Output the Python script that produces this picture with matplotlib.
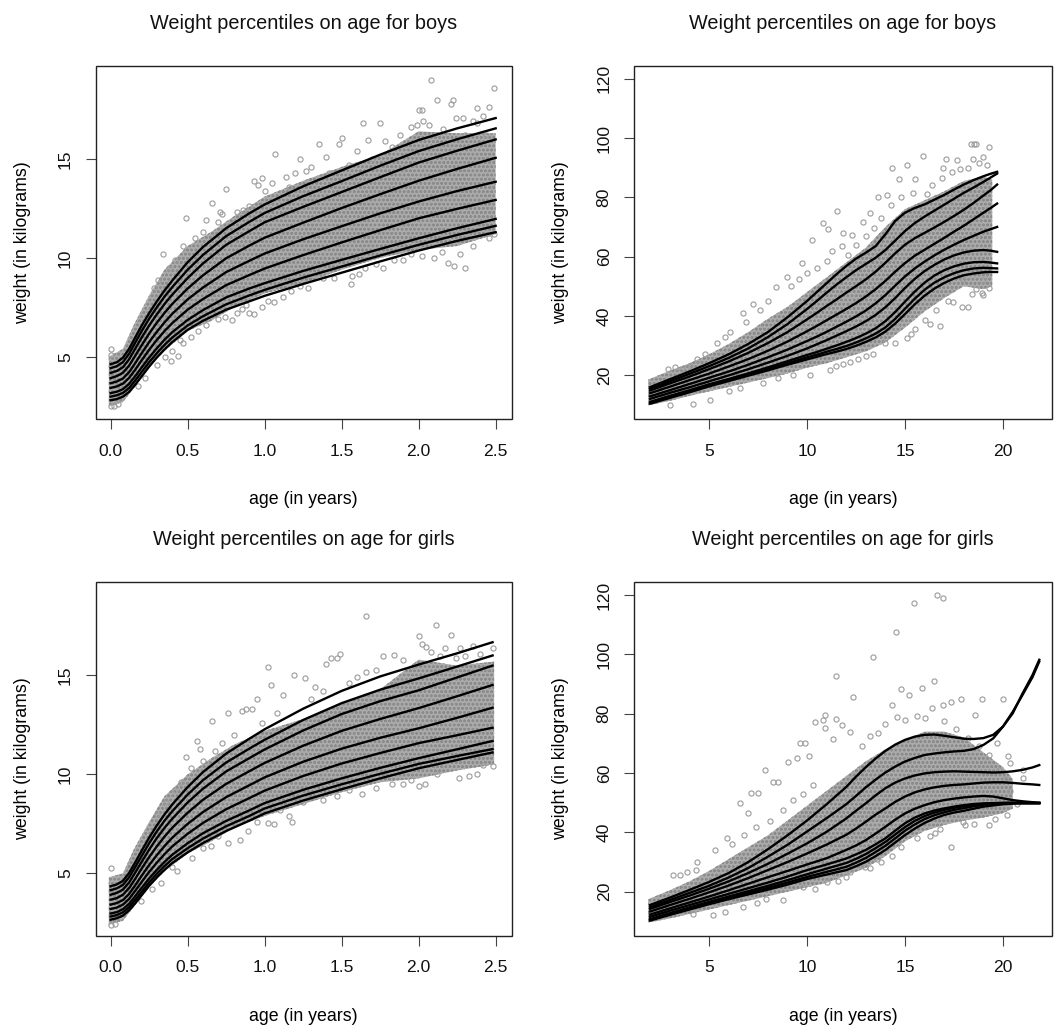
import matplotlib

matplotlib.use("Agg")
import matplotlib.pyplot as plt
from matplotlib.patches import Rectangle

plt.rcParams["font.family"] = ["Liberation Sans", "DejaVu Sans"]
plt.rcParams["hatch.linewidth"] = 0.7

# ---------------------------------------------------------------- boys 0-2.5 y
BOYS_INFANT_AGE = [0, 0.04, 0.08, 0.12, 0.16, 0.2, 0.25, 0.3, 0.35, 0.4, 0.5, 0.6, 0.75,
                   0.9, 1.0, 1.25, 1.5, 1.75, 2.0, 2.25, 2.5]
BOYS_INFANT_CENTILES = [
    [4.62, 4.72, 4.95, 5.40, 5.98, 6.55, 7.20, 7.80, 8.35, 8.85, 9.78, 10.55, 11.50, 12.25, 12.70, 13.62, 14.42, 15.22, 15.96, 16.55, 17.07],
    [4.42, 4.52, 4.73, 5.15, 5.72, 6.28, 6.92, 7.50, 8.04, 8.52, 9.40, 10.15, 11.10, 11.82, 12.27, 13.12, 13.88, 14.66, 15.40, 16.00, 16.55],
    [4.18, 4.28, 4.47, 4.87, 5.41, 5.95, 6.58, 7.14, 7.67, 8.14, 8.98, 9.72, 10.66, 11.35, 11.80, 12.58, 13.33, 14.08, 14.82, 15.42, 15.99],
    [3.92, 4.02, 4.19, 4.55, 5.05, 5.56, 6.17, 6.72, 7.22, 7.67, 8.45, 9.12, 9.98, 10.62, 11.02, 11.78, 12.52, 13.22, 13.90, 14.50, 15.06],
    [3.66, 3.75, 3.90, 4.22, 4.68, 5.16, 5.74, 6.26, 6.74, 7.17, 7.90, 8.50, 9.28, 9.85, 10.22, 10.94, 11.60, 12.25, 12.85, 13.38, 13.85],
    [3.42, 3.50, 3.64, 3.93, 4.35, 4.80, 5.35, 5.85, 6.30, 6.70, 7.38, 7.92, 8.62, 9.13, 9.46, 10.14, 10.78, 11.40, 12.00, 12.48, 12.93],
    [3.16, 3.23, 3.36, 3.63, 4.02, 4.44, 4.96, 5.43, 5.86, 6.24, 6.86, 7.36, 8.00, 8.45, 8.72, 9.34, 9.90, 10.45, 10.99, 11.50, 11.97],
    [2.98, 3.05, 3.17, 3.42, 3.80, 4.21, 4.72, 5.18, 5.60, 5.97, 6.58, 7.05, 7.65, 8.10, 8.38, 9.00, 9.56, 10.12, 10.66, 11.16, 11.62],
    [2.80, 2.86, 2.98, 3.22, 3.59, 3.99, 4.50, 4.96, 5.37, 5.74, 6.36, 6.82, 7.38, 7.80, 8.08, 8.68, 9.25, 9.82, 10.37, 10.86, 11.30],
]
BOYS_INFANT_CLOUD_AGE = [-0.012, 0.08, 0.15, 0.25, 0.35, 0.5, 0.65, 0.8, 1.0, 1.25, 1.5, 1.75, 2.0, 2.25, 2.5]
BOYS_INFANT_CLOUD_HI = [5.0, 5.4, 6.6, 8.1, 9.4, 10.6, 11.3, 12.1, 13.1, 13.9, 14.6, 15.2, 16.4, 16.3, 16.3]
BOYS_INFANT_CLOUD_LO = [2.5, 2.7, 3.4, 4.5, 5.3, 6.3, 6.8, 7.5, 8.2, 8.7, 9.4, 10.0, 10.4, 10.6, 11.2]
BOYS_INFANT_PT_AGE = [
    2.08, 2.49, 2.12, 2.22, 2.21, 2.00, 2.02, 2.38, 2.46, 2.24, 2.29, 1.64, 1.75, 1.67,
    1.50, 1.48, 1.35, 1.07, 1.23, 1.14, 0.98, 0.75, 0.49, 0.66, 0.34, 0.93, 1.40, 0.96,
    2.35, 2.16, 1.95, 1.83, 2.42, 0.00, 0.00, 0.71, 0.62, 1.30, 1.20,
    0.28, 0.31, 0.38, 0.42, 0.47, 0.55, 0.60, 0.70, 0.72, 0.82, 0.86, 0.90, 1.00, 1.05,
    1.16, 1.27, 1.42, 1.55, 1.60, 1.70, 1.78, 1.88, 1.99, 2.03, 2.07, 2.30, 2.38, 2.44,
    2.30, 2.23, 2.19, 2.27, 1.56, 1.57, 1.38, 1.77, 1.84, 1.61, 1.23, 1.06, 0.90, 0.93,
    0.79, 0.74, 0.57, 0.45, 0.44, 0.39, 0.40, 0.47, 1.10, 1.17, 2.49, 2.02, 2.10, 1.95,
    0.00, 0.02, 0.05, 0.98, 1.02, 0.85,
    0.22, 0.18, 0.30, 0.35, 0.52, 0.62, 0.70, 0.82, 0.88, 1.12, 1.28, 1.45, 1.65, 1.72,
    1.90, 2.15, 2.35, 2.46,
]
BOYS_INFANT_PT_WT = [
    19.0, 18.6, 18.0, 18.0, 17.76, 17.5, 17.5, 17.56, 17.64, 17.05, 17.05, 16.83, 16.83, 15.94,
    16.08, 15.74, 15.74, 15.24, 15.0, 14.1, 14.05, 13.47, 12.04, 12.76, 10.18, 13.9, 15.1, 13.7,
    16.9, 16.5, 16.6, 15.6, 17.2, 5.4, 5.1, 12.3, 11.9, 14.6, 14.3,
    8.5, 8.9, 9.5, 9.9, 10.6, 11.0, 11.3, 11.8, 12.2, 12.3, 12.4, 12.6, 13.4, 13.8,
    13.6, 14.4, 14.3, 14.7, 15.4, 15.0, 15.9, 16.2, 16.7, 16.9, 16.7, 16.2, 16.8, 16.2,
    9.48, 9.61, 9.75, 10.18, 8.69, 9.1, 9.0, 9.48, 9.9, 9.19, 8.6, 7.76, 7.21, 7.15,
    6.84, 7.0, 6.28, 5.86, 5.02, 4.80, 5.3, 5.7, 8.5, 8.3, 11.2, 10.1, 10.0, 10.2,
    2.5, 2.5, 2.6, 7.5, 7.8, 7.4,
    3.9, 3.5, 4.6, 5.0, 6.0, 6.6, 6.9, 7.2, 7.6, 8.0, 8.5, 9.0, 9.5, 9.7,
    9.9, 10.3, 10.6, 11.0,
]

# ---------------------------------------------------------------- boys 2-20 y
BOYS_AGE = [2, 3, 4, 5, 6, 7, 8, 9, 10, 10.5, 11, 11.5, 12, 12.5, 13, 13.5, 14, 14.5, 15,
            15.5, 16, 16.5, 17, 17.5, 18, 18.5, 19, 19.35, 19.7]
BOYS_CENTILES = [
    [15.96, 18.6, 21.2, 24.0, 27.0, 30.5, 34.5, 39.5, 45.0, 48.0, 51.0, 54.0, 56.8, 59.3, 61.3, 63.5, 67.5, 72.0, 74.8, 76.4, 77.6, 79.2, 80.8, 82.6, 84.3, 85.8, 87.1, 87.9, 88.6],
    [15.40, 17.9, 20.4, 23.0, 25.8, 29.0, 32.8, 37.2, 42.3, 45.0, 47.8, 50.5, 53.0, 55.4, 57.5, 59.6, 62.2, 65.4, 68.6, 71.3, 73.5, 75.5, 77.5, 79.5, 81.5, 83.3, 85.2, 86.6, 88.0],
    [14.82, 17.2, 19.5, 22.0, 24.6, 27.5, 30.8, 34.5, 38.8, 41.0, 43.3, 45.5, 47.8, 50.0, 52.3, 54.9, 57.9, 61.1, 64.0, 66.2, 68.0, 69.8, 71.7, 73.7, 75.8, 78.1, 80.6, 82.3, 84.3],
    [13.90, 16.1, 18.3, 20.5, 22.9, 25.4, 28.2, 31.3, 34.8, 36.6, 38.5, 40.4, 42.3, 44.3, 46.5, 49.0, 51.8, 54.9, 57.8, 60.3, 62.3, 64.3, 66.3, 68.4, 70.4, 72.6, 74.8, 76.3, 77.9],
    [12.85, 14.9, 17.0, 19.1, 21.2, 23.5, 26.0, 28.6, 31.5, 33.0, 34.6, 36.3, 38.0, 39.8, 41.8, 44.2, 47.0, 50.2, 53.3, 56.0, 58.3, 60.4, 62.3, 64.0, 65.6, 67.0, 68.4, 69.2, 70.0],
    [12.00, 14.0, 15.9, 17.9, 19.9, 22.0, 24.2, 26.5, 29.0, 30.4, 31.8, 33.3, 34.8, 36.4, 38.2, 40.3, 42.9, 46.0, 49.4, 52.5, 55.1, 57.2, 59.0, 60.4, 61.4, 62.0, 62.2, 62.0, 61.6],
    [10.99, 13.0, 14.9, 16.9, 18.7, 20.6, 22.6, 24.7, 26.8, 27.8, 28.9, 30.0, 31.2, 32.5, 34.0, 35.8, 38.2, 41.3, 44.8, 48.2, 51.2, 53.6, 55.4, 56.7, 57.6, 58.1, 58.2, 58.0, 57.7],
    [10.66, 12.6, 14.5, 16.5, 18.3, 20.1, 22.0, 24.0, 26.0, 26.9, 27.9, 28.8, 29.8, 31.0, 32.4, 34.0, 36.1, 39.0, 42.4, 45.8, 48.8, 51.2, 53.0, 54.4, 55.4, 56.0, 56.2, 56.1, 56.0],
    [10.37, 12.3, 14.2, 16.2, 18.0, 19.8, 21.6, 23.5, 25.3, 26.2, 27.1, 27.9, 28.8, 29.9, 31.2, 32.7, 34.7, 37.4, 40.6, 43.9, 46.8, 49.2, 51.1, 52.6, 53.7, 54.3, 54.7, 54.8, 54.8],
]
BOYS_CLOUD_AGE = [1.9, 3, 4, 5, 6, 7, 8, 9, 10, 11, 12, 13, 14, 15, 16, 17, 18, 19, 19.45]
BOYS_CLOUD_HI = [18.5, 21.5, 24, 27, 30.5, 34.5, 39, 43, 48, 53, 58, 63, 70, 76, 79, 82, 85.5, 87, 86]
BOYS_CLOUD_LO = [9.8, 11.3, 13.0, 14.5, 16.0, 17.5, 19.0, 20.5, 22.5, 24.0, 26.0, 28.0, 31.0, 36.0, 41.5, 46.0, 50.0, 49.0, 50.0]
BOYS_PT_AGE = [
    18.5, 18.35, 18.62, 19.27, 15.9, 15.08, 14.35, 17.07, 17.64, 16.96, 17.8, 18.49, 19.0,
    14.68, 15.5, 14.06, 13.62, 13.2, 12.87, 11.51, 10.83, 11.09, 10.24, 11.85, 12.28, 9.73,
    8.96, 8.42, 7.26, 6.75, 6.07, 5.39, 4.03, 3.27, 2.93, 16.1,
    9.2, 9.6, 10.0, 10.5, 11.0, 11.3, 11.8, 12.1, 12.5, 13.0, 13.4, 13.8, 14.3, 14.8,
    15.4, 16.4, 16.9, 17.4, 18.2, 18.8, 19.2, 8.0, 7.6, 6.9, 5.8, 4.8, 4.4, 3.6,
    17.98, 18.4, 18.91, 19.0, 17.89, 18.23, 17.47, 16.79, 16.28, 15.5, 15.08, 13.98, 13.38,
    12.62, 11.85, 11.17, 10.15, 9.3, 7.77, 6.58, 5.05, 4.17, 19.0,
    14.5, 15.3, 16.0, 16.6, 17.2, 18.6, 19.3, 13.0, 12.2, 11.5, 8.5, 6.0, 3.0,
]
BOYS_PT_WT = [
    97.9, 97.9, 97.9, 97.0, 94.0, 90.9, 90.0, 92.8, 92.5, 90.0, 89.7, 93.0, 93.6,
    86.3, 86.3, 80.7, 80.1, 74.8, 71.7, 75.4, 71.4, 69.4, 65.5, 67.8, 67.2, 58.0,
    53.2, 49.8, 43.9, 40.8, 34.6, 30.7, 23.0, 22.8, 22.2, 81.2,
    50.0, 52.5, 54.5, 56.0, 58.5, 62.0, 63.5, 60.5, 64.0, 67.0, 69.5, 73.0, 77.5, 80.0,
    81.5, 84.0, 86.5, 88.5, 90.0, 91.5, 91.0, 45.0, 42.0, 38.0, 33.0, 27.0, 25.5, 22.0,
    52.6, 47.5, 47.8, 47.0, 43.0, 43.0, 44.7, 36.5, 37.2, 35.7, 32.4, 30.7, 27.3,
    25.6, 23.6, 21.7, 20.0, 20.0, 17.2, 15.5, 11.6, 10.4, 52.0,
    31.0, 34.0, 38.5, 42.0, 45.0, 49.0, 49.5, 26.5, 24.5, 23.0, 19.0, 14.5, 10.0,
]

# ---------------------------------------------------------------- girls 0-2.5 y
GIRLS_INFANT_AGE = [0, 0.04, 0.08, 0.12, 0.16, 0.2, 0.25, 0.3, 0.35, 0.4, 0.5, 0.6, 0.75,
                    0.9, 1.0, 1.25, 1.5, 1.75, 2.0, 2.25, 2.48]
GIRLS_INFANT_CENTILES = [
    [4.35, 4.44, 4.62, 5.02, 5.56, 6.12, 6.80, 7.42, 7.98, 8.48, 9.36, 10.12, 11.05, 11.80, 12.28, 13.32, 14.22, 14.95, 15.55, 16.12, 16.68],
    [4.15, 4.24, 4.42, 4.80, 5.32, 5.86, 6.52, 7.12, 7.66, 8.14, 8.98, 9.71, 10.60, 11.30, 11.75, 12.75, 13.60, 14.28, 14.85, 15.45, 16.01],
    [3.92, 4.01, 4.18, 4.54, 5.04, 5.56, 6.20, 6.78, 7.30, 7.76, 8.58, 9.28, 10.15, 10.82, 11.26, 12.22, 13.05, 13.70, 14.25, 14.90, 15.50],
    [3.67, 3.75, 3.92, 4.26, 4.73, 5.22, 5.82, 6.36, 6.86, 7.30, 8.06, 8.72, 9.52, 10.16, 10.58, 11.45, 12.20, 12.80, 13.35, 13.95, 14.52],
    [3.42, 3.50, 3.65, 3.96, 4.40, 4.86, 5.42, 5.92, 6.38, 6.80, 7.50, 8.10, 8.85, 9.45, 9.85, 10.64, 11.30, 11.85, 12.33, 12.86, 13.37],
    [3.20, 3.27, 3.42, 3.71, 4.12, 4.55, 5.07, 5.54, 5.97, 6.36, 7.00, 7.55, 8.24, 8.80, 9.18, 9.92, 10.55, 11.08, 11.58, 11.98, 12.36],
    [2.97, 3.04, 3.19, 3.46, 3.85, 4.25, 4.74, 5.18, 5.58, 5.94, 6.52, 7.03, 7.65, 8.18, 8.55, 9.22, 9.80, 10.33, 10.82, 11.27, 11.69],
    [2.82, 2.89, 3.03, 3.29, 3.66, 4.05, 4.54, 4.98, 5.37, 5.72, 6.27, 6.76, 7.38, 7.90, 8.28, 8.93, 9.50, 10.03, 10.53, 10.93, 11.28],
    [2.66, 2.73, 2.87, 3.13, 3.49, 3.88, 4.37, 4.80, 5.18, 5.52, 6.06, 6.53, 7.14, 7.66, 8.03, 8.68, 9.25, 9.80, 10.31, 10.73, 11.11],
]
GIRLS_INFANT_CLOUD_AGE = [-0.012, 0.08, 0.15, 0.25, 0.35, 0.5, 0.65, 0.8, 1.0, 1.25, 1.5, 1.75, 2.0, 2.25, 2.49]
GIRLS_INFANT_CLOUD_HI = [4.8, 5.0, 6.2, 7.6, 8.9, 10.0, 10.8, 11.5, 12.2, 12.8, 13.6, 14.3, 15.8, 15.5, 15.7]
GIRLS_INFANT_CLOUD_LO = [2.4, 2.6, 3.3, 4.3, 5.1, 6.0, 6.6, 7.3, 7.9, 8.5, 9.1, 9.6, 9.8, 10.2, 10.5]
GIRLS_INFANT_PT_AGE = [
    1.66, 2.11, 2.21, 2.00, 2.02, 2.05, 2.17, 2.27, 2.35, 2.48, 1.49, 1.47, 1.02, 1.26,
    1.19, 1.04, 0.95, 0.92, 0.85, 0.76, 0.66, 0.56, 0.49, 1.12, 1.66, 1.84, 1.77, 1.97,
    2.30, 0.00, 1.40, 1.43, 0.58, 0.88, 1.33,
    0.30, 0.36, 0.42, 0.46, 0.52, 0.60, 0.68, 0.72, 0.80, 0.98, 1.08, 1.30, 1.38, 1.55,
    1.60, 1.72, 1.90, 2.08, 2.14, 2.24, 2.40, 2.44,
    0.84, 0.76, 0.89, 0.65, 0.53, 0.43, 1.18, 1.16, 1.02, 1.06, 1.38, 1.63, 1.72, 1.83,
    1.90, 2.00, 2.04, 2.26, 2.33, 2.48, 0.00, 0.03, 0.33, 0.95, 1.47, 2.38,
    0.20, 0.27, 0.40, 0.60, 0.70, 1.10, 1.25, 1.55, 1.95, 2.12, 2.42,
]
GIRLS_INFANT_PT_WT = [
    18.02, 17.53, 17.02, 17.0, 16.6, 16.45, 16.4, 16.4, 16.5, 16.4, 16.08, 15.9, 15.45, 14.86,
    15.03, 14.5, 13.79, 13.3, 13.2, 13.12, 12.72, 11.71, 10.86, 14.0, 15.2, 16.01, 16.0, 15.5,
    16.0, 5.25, 15.6, 15.9, 11.3, 13.3, 14.4,
    8.0, 8.6, 9.2, 9.6, 10.3, 10.7, 11.2, 11.6, 12.0, 12.6, 13.1, 13.8, 14.2, 14.6,
    14.9, 15.3, 15.8, 16.2, 16.0, 15.9, 16.1, 15.4,
    6.68, 6.51, 7.15, 6.4, 5.76, 5.13, 7.61, 7.9, 7.53, 7.5, 8.7, 8.99, 9.3, 9.5,
    9.5, 9.4, 9.5, 9.8, 9.9, 10.4, 2.4, 2.45, 4.5, 7.6, 8.9, 10.0,
    3.6, 4.2, 5.3, 6.3, 6.9, 8.2, 8.6, 9.2, 9.7, 10.0, 10.5,
]

# ---------------------------------------------------------------- girls 2-22 y
GIRLS_AGE = [2, 3, 4, 5, 6, 7, 8, 9, 10, 11, 12, 12.5, 13, 13.5, 14, 14.5, 15, 15.5, 16, 16.5,
             17, 17.5, 18, 18.5, 19, 19.5, 20, 20.5, 21, 21.5, 21.85]
GIRLS_CENTILES = [
    [15.55, 18.0, 20.6, 23.3, 26.3, 30.0, 34.3, 39.0, 44.0, 49.5, 55.3, 58.8, 62.0, 64.9, 67.5, 69.6,
     71.2, 72.3, 72.9, 73.0, 72.6, 72.1, 71.6, 71.5, 71.8, 72.9, 75.7, 80.2, 86.9, 93.0, 98.2],
    [14.85, 17.2, 19.6, 22.0, 24.8, 28.0, 31.8, 35.8, 40.3, 44.8, 49.5, 52.3, 55.2, 57.8, 60.2, 62.2,
     63.9, 65.1, 66.1, 66.6, 67.0, 67.3, 67.5, 68.1, 69.5, 71.7, 75.7, 80.7, 86.4, 92.3, 97.6],
    [14.25, 16.5, 18.7, 21.0, 23.5, 26.3, 29.4, 32.8, 36.3, 40.2, 44.7, 47.3, 49.8, 52.5, 54.9, 56.8,
     58.2, 59.2, 59.9, 60.3, 60.5, 60.6, 60.5, 60.4, 60.3, 60.2, 60.3, 60.6, 61.1, 61.9, 62.7],
    [13.35, 15.5, 17.6, 19.8, 22.1, 24.6, 27.3, 30.0, 32.9, 35.9, 39.2, 41.3, 43.6, 46.0, 48.1, 50.3,
     52.1, 53.5, 54.5, 55.2, 55.7, 56.0, 56.2, 56.5, 56.8, 56.9, 56.9, 56.7, 56.4, 56.2, 56.0],
    [12.33, 14.4, 16.4, 18.4, 20.5, 22.7, 24.9, 27.0, 29.2, 31.3, 34.1, 35.6, 37.4, 39.6, 41.9, 44.3,
     46.4, 48.0, 49.2, 50.2, 50.9, 51.4, 51.8, 52.1, 52.3, 52.1, 51.5, 50.9, 50.5, 50.2, 50.0],
    [11.58, 13.6, 15.5, 17.4, 19.3, 21.2, 23.1, 25.1, 27.3, 29.2, 31.2, 32.6, 34.1, 36.0, 38.0, 40.6,
     43.1, 45.0, 46.4, 47.4, 48.1, 48.7, 49.2, 49.6, 49.8, 49.9, 50.0, 50.0, 49.9, 49.9, 49.9],
    [10.82, 12.8, 14.7, 16.6, 18.4, 20.2, 22.0, 23.9, 25.9, 27.8, 29.7, 31.1, 32.7, 34.7, 36.8, 39.3,
     41.8, 43.9, 45.5, 46.7, 47.6, 48.3, 48.8, 49.3, 49.6, 49.8, 49.9, 50.0, 50.0, 50.0, 50.0],
    [10.53, 12.5, 14.3, 16.2, 17.9, 19.6, 21.3, 23.1, 25.0, 26.7, 28.4, 29.8, 31.4, 33.4, 35.5, 38.0,
     40.6, 42.7, 44.5, 45.8, 46.8, 47.6, 48.2, 48.8, 49.3, 49.6, 49.8, 49.9, 49.9, 49.9, 49.9],
    [10.31, 12.2, 14.0, 15.8, 17.5, 19.1, 20.7, 22.4, 24.3, 25.8, 27.3, 28.6, 30.1, 32.0, 34.1, 36.6,
     39.1, 41.3, 43.2, 44.7, 45.9, 46.7, 47.3, 48.0, 48.7, 49.1, 49.5, 49.7, 49.8, 49.8, 49.8],
]
GIRLS_CLOUD_AGE = [1.9, 3, 4, 5, 6, 7, 8, 9, 10, 11, 12, 13, 14, 15, 16, 17, 18, 19, 20, 20.5]
GIRLS_CLOUD_HI = [17.5, 20.5, 23.5, 27, 31, 35, 39, 44, 49, 54, 59, 64, 68, 71, 74, 74, 72, 67, 62, 58]
GIRLS_CLOUD_LO = [9.6, 11.0, 12.5, 14.0, 15.5, 17.0, 18.5, 20.0, 21.5, 23.0, 25.5, 28.0, 32.0, 37.0,
                  40.5, 42.5, 44.0, 45.0, 46.5, 48.0]
GIRLS_PT_AGE = [
    16.62, 16.96, 15.46, 14.54, 13.38, 11.48, 12.36, 16.48, 15.85, 14.8, 15.22, 18.91, 19.98,
    17.86, 17.33, 16.96, 16.36, 14.32, 18.57, 15.59, 10.92, 10.83, 10.41, 11.46, 11.8, 11.34,
    10.94, 12.19, 19.68, 20.27, 20.36, 21.04, 21.0, 20.36, 9.64, 9.9, 10.12, 9.47, 9.05, 7.87,
    8.54, 8.28, 7.52, 7.13, 6.58, 7.01, 5.9, 5.31, 4.37, 3.18, 3.52, 3.86, 4.34, 20.7,
    8.8, 9.3, 9.8, 10.3, 12.8, 13.2, 13.6, 14.0, 14.6, 15.0, 16.0, 17.0, 17.6, 18.2, 18.8,
    19.3, 19.8, 20.1, 6.2, 6.8, 7.4, 8.1,
    17.33, 19.3, 16.28, 16.53, 14.32, 13.55, 12.7, 12.96, 13.21, 12.19, 11.0, 9.81, 8.79,
    7.43, 6.75, 5.82, 5.22, 18.06, 17.98,
    14.8, 15.6, 16.8, 18.5, 19.6, 20.2, 10.4, 11.6, 12.0, 13.8, 7.9, 4.2,
]
GIRLS_PT_WT = [
    119.9, 119.0, 117.3, 107.7, 99.0, 92.6, 85.8, 90.9, 88.8, 88.4, 86.4, 85.0, 85.0,
    85.0, 83.9, 83.0, 81.9, 83.0, 79.6, 79.1, 79.6, 77.9, 77.1, 78.2, 76.2, 71.4,
    75.1, 74.0, 70.1, 65.6, 63.3, 61.1, 58.2, 54.1, 70.1, 70.1, 65.6, 65.0, 63.9, 61.1,
    57.1, 57.1, 53.2, 53.2, 49.8, 46.4, 38.0, 34.1, 30.1, 25.6, 25.8, 26.7, 27.3, 49.6,
    47.5, 51.0, 53.0, 56.0, 69.0, 72.5, 73.5, 76.5, 79.0, 78.0, 78.5, 77.5, 75.0, 72.0, 69.0,
    66.0, 61.0, 58.0, 36.0, 39.0, 42.0, 44.0,
    35.2, 42.5, 38.8, 39.7, 32.1, 31.2, 29.0, 28.4, 27.9, 26.7, 23.4, 21.7, 17.2,
    16.1, 14.9, 13.3, 12.1, 42.5, 43.6,
    35.0, 38.0, 41.0, 43.0, 44.5, 46.0, 21.0, 23.5, 25.0, 30.0, 17.5, 12.5,
]

TITLES = ["Weight percentiles on age for boys", "Weight percentiles on age for girls"]
POINT_GREY = "#9b9b9b"
CLOUD_FACE = "#ababab"
CLOUD_RING = "#8b8b8b"
AX_H_PX = 353.5


def draw_panel(ax, title, ages, centiles, cloud, points, young):
    cloud_age, cloud_hi, cloud_lo = cloud
    # dense part of the scatter: overlapping open circles
    ax.fill_between(cloud_age, cloud_lo, cloud_hi, facecolor=CLOUD_FACE, edgecolor=CLOUD_RING,
                    hatch="oooo", linewidth=0, zorder=1)
    ax.plot(points[0], points[1], linestyle="none", marker="o", markersize=3.7,
            markerfacecolor="none", markeredgecolor=POINT_GREY, markeredgewidth=0.8, zorder=2)
    for curve in centiles:
        ax.plot(ages, curve, color="black", linewidth=1.7, zorder=3,
                solid_joinstyle="round")

    if young:
        ax.set_xlim(-0.097, 2.604)
        ax.set_ylim(1.85, 19.72)
        ax.set_xticks([0.0, 0.5, 1.0, 1.5, 2.0, 2.5])
        ax.set_xticklabels(["0.0", "0.5", "1.0", "1.5", "2.0", "2.5"])
        yticks = [5, 10, 15]
    else:
        ax.set_xlim(1.19, 22.48)
        ax.set_ylim(5.2, 124.4)
        ax.set_xticks([5, 10, 15, 20])
        yticks = [20, 40, 60, 80, 100, 120]
    ax.set_yticks(yticks)
    ax.set_yticklabels([str(v) for v in yticks], rotation=90, va="center")

    for spine in ax.spines.values():
        spine.set_visible(False)
    ax.add_patch(Rectangle((0, 0), 1, 1, transform=ax.transAxes, fill=False,
                           edgecolor="#222222", linewidth=1.0, clip_on=False, zorder=5))
    ax.tick_params(axis="both", direction="out", length=7.3, width=0.8, color="#444444",
                   labelsize=12.6, labelcolor="#111111")
    ax.tick_params(axis="x", pad=10.5)
    ax.tick_params(axis="y", pad=9)

    ax.set_xlabel("age (in years)", fontsize=12.8)
    ax.xaxis.label.set_verticalalignment("baseline")
    ax.xaxis.set_label_coords(0.5, -85 / AX_H_PX)
    ax.set_ylabel("weight (in kilograms)", fontsize=12.8)
    ax.yaxis.label.set_verticalalignment("baseline")
    ax.yaxis.set_label_coords(-69 / 417.0, 0.5)
    ax.text(0.5, 1 + 37 / AX_H_PX, title, transform=ax.transAxes, ha="center",
            va="baseline", fontsize=14.3, color="#111111")


fig = plt.figure(figsize=(10.55, 10.28), dpi=100)
ax_tl = fig.add_axes([0.0907, 0.5924, 0.3943, 0.3437])
ax_tr = fig.add_axes([0.6012, 0.5924, 0.3956, 0.3437])
ax_bl = fig.add_axes([0.0907, 0.0898, 0.3943, 0.3440])
ax_br = fig.add_axes([0.6012, 0.0898, 0.3956, 0.3440])

draw_panel(ax_tl, TITLES[0], BOYS_INFANT_AGE, BOYS_INFANT_CENTILES,
           (BOYS_INFANT_CLOUD_AGE, BOYS_INFANT_CLOUD_HI, BOYS_INFANT_CLOUD_LO),
           (BOYS_INFANT_PT_AGE, BOYS_INFANT_PT_WT), young=True)
draw_panel(ax_tr, TITLES[0], BOYS_AGE, BOYS_CENTILES,
           (BOYS_CLOUD_AGE, BOYS_CLOUD_HI, BOYS_CLOUD_LO),
           (BOYS_PT_AGE, BOYS_PT_WT), young=False)
draw_panel(ax_bl, TITLES[1], GIRLS_INFANT_AGE, GIRLS_INFANT_CENTILES,
           (GIRLS_INFANT_CLOUD_AGE, GIRLS_INFANT_CLOUD_HI, GIRLS_INFANT_CLOUD_LO),
           (GIRLS_INFANT_PT_AGE, GIRLS_INFANT_PT_WT), young=True)
draw_panel(ax_br, TITLES[1], GIRLS_AGE, GIRLS_CENTILES,
           (GIRLS_CLOUD_AGE, GIRLS_CLOUD_HI, GIRLS_CLOUD_LO),
           (GIRLS_PT_AGE, GIRLS_PT_WT), young=False)

fig.savefig("out.png", dpi=100)
